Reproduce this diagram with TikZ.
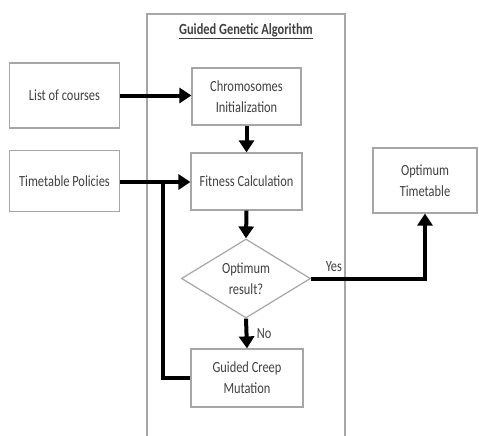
\documentclass[tikz,border=0pt]{standalone}
\usepackage{fontspec}
\setmainfont{Carlito}[FakeStretch=0.8]
\usetikzlibrary{shapes.geometric,arrows.meta}

\definecolor{boxgray}{HTML}{A6A6A6}
\definecolor{textgray}{HTML}{404040}

\begin{document}
\begin{tikzpicture}[x=1pt, y=-1pt,
  step box/.style={rectangle,draw=boxgray,line width=1.2pt,text=textgray,align=center,font=\fontsize{15.5}{21}\selectfont},
  decision node/.style={diamond,aspect=1.63,draw=boxgray,line width=1.2pt,text=textgray,align=center,inner sep=0pt,font=\fontsize{15.5}{21}\selectfont},
  flow/.style={line width=4pt,-{Triangle[length=12pt,width=15pt]}},
  flow line/.style={line width=4pt},
  flow label/.style={text=textgray,font=\fontsize{15.5}{21}\selectfont}]

  \useasboundingbox (0,0) rectangle (479,436);

  % frame of the algorithm
  \node[step box, minimum width=198, minimum height=432] (gga) at (246,230) {};
  \node[text=textgray, font=\bfseries\fontsize{15.5}{21}\selectfont] (title) at (246,31) {\underline{Guided Genetic Algorithm}};

  \node[step box, minimum width=110, minimum height=65] (courses) at (64.5,95.5) {List of courses};
  \node[step box, minimum width=110, minimum height=61] (policies) at (64.5,181) {Timetable Policies};
  \node[step box, minimum width=109, minimum height=57] (chrom) at (246.5,96.5) {Chromosomes\\Initialization};
  \node[step box, minimum width=111, minimum height=57] (fitness) at (246.5,181.5) {Fitness Calculation};
  \node[decision node, minimum width=129, minimum height=79] (optq) at (246,278.5) {Optimum\\result?};
  \node[step box, minimum width=112, minimum height=58] (mutation) at (247,378) {Guided Creep\\Mutation};
  \node[step box, minimum width=104, minimum height=65] (optimum) at (425,180.5) {Optimum\\Timetable};

  \coordinate (back) at (163,182);

 \draw[flow] (courses.east) -- (courses.east -| chrom.west);
 \draw[flow] (chrom.south) -- (fitness.north);
 \draw[flow] (policies.east |- back) -- (fitness.west |- back);
 \draw[flow] (fitness.south) -- (optq.north);
 \draw[flow] (optq.south) -- node[right=5pt, flow label] {No} (mutation.north);
 \draw[flow line] (mutation.west) -| (back);
 \draw[flow] (optq.east) -- node[above=2pt, pos=0.2, flow label] {Yes} (optq.east -| optimum.south) -- (optimum.south);
\end{tikzpicture}
\end{document}
